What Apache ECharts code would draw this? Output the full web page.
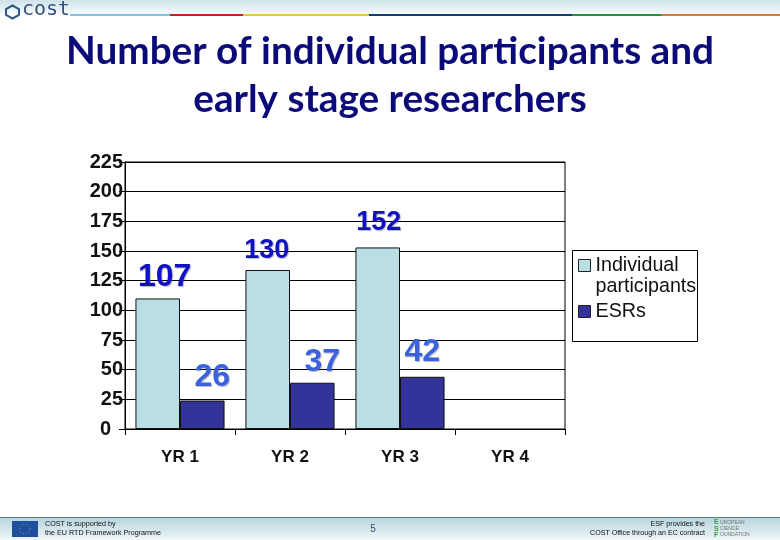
<!DOCTYPE html>
<html><head><meta charset="utf-8">
<style>html,body{margin:0;padding:0;background:#fff}#c{width:780px;height:540px}</style>
<script src="https://cdn.jsdelivr.net/npm/echarts@6/dist/echarts.min.js"></script>
</head><body><div id="c"></div>
<script>
const categories = ['YR 1','YR 2','YR 3','YR 4'];
const yTicks = [0,25,50,75,100,125,150,175,200,225];
const participantsBars = [110,134,153,null];
const esrBars = [24,39,44,null];
const participantsLabels = ['107','130','152',''];
const esrLabels = ['26','37','42',''];
const participantsLabelOffsets = [[7,-5],[-1,-6],[1,-11],[0,0]];
const esrLabelOffsets = [[10,-7],[10,-5],[0,-9],[0,0]];
const participantsLabelSizes = [32,27,27,27];
const esrLabelSizes = [32,32,32,32];

const sans = '"Liberation Sans", Arial, sans-serif';
const headerSegments = [['#7cc4e4',70,100],['#c8202a',170,73],['#e8c93c',243,126],['#0f3a7c',369,203],['#1f9438',572,89],['#d97a30',661,119]];
const band = (a,b)=>({type:'linear',x:0,y:0,x2:0,y2:1,colorStops:[{offset:0,color:a},{offset:1,color:b}]});
const graphics = [
 {type:'rect',shape:{x:0,y:0,width:780,height:14},style:{fill:band('#cfe3e8','#f6fafb')},z:0},
 ...headerSegments.map(s=>({type:'rect',shape:{x:s[1],y:14,width:s[2],height:2},style:{fill:s[0]},z:1})),
 {type:'text',x:22,y:0,style:{text:'cost',font:'20px "DejaVu Sans Mono", monospace',fill:'#36507f'},z:2},
 {type:'polygon',shape:{points:[[12.5,5.5],[19,9],[19,15],[12.5,18.5],[6,15],[6,9]]},style:{fill:'none',stroke:'#2d5a8c',lineWidth:2},z:2},
 {type:'rect',shape:{x:0,y:517,width:780,height:23},style:{fill:band('#b6d4dc','#eef6f7')},z:0},
 {type:'line',shape:{x1:0,y1:517.5,x2:780,y2:517.5},style:{stroke:'#4d7f90',lineWidth:1},z:1},
 {type:'rect',shape:{x:12,y:521,width:26,height:16},style:{fill:'#1d4f9c'},z:2},
 {type:'circle',shape:{cx:25,cy:529,r:5},style:{fill:'none',stroke:'#8fa080',lineWidth:1,lineDash:[1,2]},z:3},
 {type:'text',x:45,y:521,style:{text:'COST is supported by',font:'7.2px '+sans,fill:'#111'},z:2},
 {type:'text',x:45,y:530,style:{text:'the EU RTD Framework Programme',font:'7.2px '+sans,fill:'#111'},z:2},
 {type:'text',x:373,y:524,style:{text:'5',font:'10px '+sans,fill:'#2f4f7f',align:'center'},z:2},
 {type:'text',x:705,y:521,style:{text:'ESF provides the',font:'7.1px '+sans,fill:'#111',align:'right'},z:2},
 {type:'text',x:705,y:530,style:{text:'COST Office through an EC contract',font:'7.1px '+sans,fill:'#111',align:'right'},z:2},
 {type:'text',x:714,y:519,style:{text:'E\nS\nF',font:'bold 7px '+sans,lineHeight:6.5,fill:'#3f9a3f'},z:2},
 {type:'text',x:720,y:520,style:{text:'UROPEAN\nCIENCE\nOUNDATION',font:'5px '+sans,lineHeight:6,fill:'#777'},z:2},
 {type:'rect',shape:{x:572.5,y:250.5,width:125,height:91},style:{fill:'#fff',stroke:'#000',lineWidth:1},z:5}
];
const makeLabel=(labels,offsets,sizes,color)=>(v,i)=>({value:v,label:{show:true,position:'top',distance:0,formatter:labels[i],offset:offsets[i],fontSize:sizes[i],fontFamily:sans,fontWeight:'bold',color:color,textShadowColor:'rgba(90,90,120,.45)',textShadowBlur:1,textShadowOffsetX:1,textShadowOffsetY:1}});
const tickFont = {fontFamily:sans,fontSize:20,fontWeight:'bold',color:'#111'};
const chart = echarts.init(document.getElementById('c'),null,{renderer:'canvas'});
chart.setOption({
 animation:false,
 backgroundColor:'#fff',
 title:{text:'Number of individual participants and\nearly stage researchers',left:'center',top:23,
  textStyle:{fontFamily:'Lato, sans-serif',fontWeight:'bold',fontSize:38.7,lineHeight:48,color:'#0a0a78',align:'center'}},
 graphic:graphics,
 grid:{left:125,right:215,top:162,bottom:111,show:true,borderColor:'#000',borderWidth:1,backgroundColor:'#fff'},
 legend:{orient:'vertical',left:573,top:229,z:10,itemWidth:12,itemHeight:12,itemGap:4,selectedMode:false,icon:'rect',
  itemStyle:{borderColor:'#222',borderWidth:1},
  formatter:n=>n.indexOf('\n')>=0?'\n'+n:n,
  textStyle:{fontFamily:sans,fontSize:19.7,lineHeight:21,color:'#111'},
  data:['Individual\nparticipants','ESRs']},
 xAxis:{type:'category',data:categories,axisLine:{lineStyle:{color:'#000',width:1}},
  axisTick:{show:true,length:6,alignWithLabel:false,lineStyle:{color:'#000'}},
  axisLabel:{margin:20,fontFamily:sans,fontSize:17,fontWeight:'bold',color:'#111',interval:0}},
 yAxis:{type:'value',min:yTicks[0],max:yTicks[yTicks.length-1],interval:yTicks[1]-yTicks[0],
  axisLine:{show:true,lineStyle:{color:'#000'}},axisTick:{show:true,length:6,lineStyle:{color:'#000'}},
  splitLine:{show:true,lineStyle:{color:'#000',width:1}},
  axisLabel:Object.assign({margin:2,formatter:v=>v===0?'{z|0}':String(v),rich:{z:Object.assign({padding:[0,12,0,0]},tickFont)}},tickFont)},
 series:[
  {type:'bar',name:'Individual\nparticipants',barGap:0,barCategoryGap:'19%',itemStyle:{color:'#b9dee3',borderColor:'#111',borderWidth:1},
   data:participantsBars.map(makeLabel(participantsLabels,participantsLabelOffsets,participantsLabelSizes,'#1010c4'))},
  {type:'bar',name:'ESRs',itemStyle:{color:'#333399',borderColor:'#111',borderWidth:1},
   data:esrBars.map(makeLabel(esrLabels,esrLabelOffsets,esrLabelSizes,'#3a62dc'))}
 ]
});
</script></body></html>
